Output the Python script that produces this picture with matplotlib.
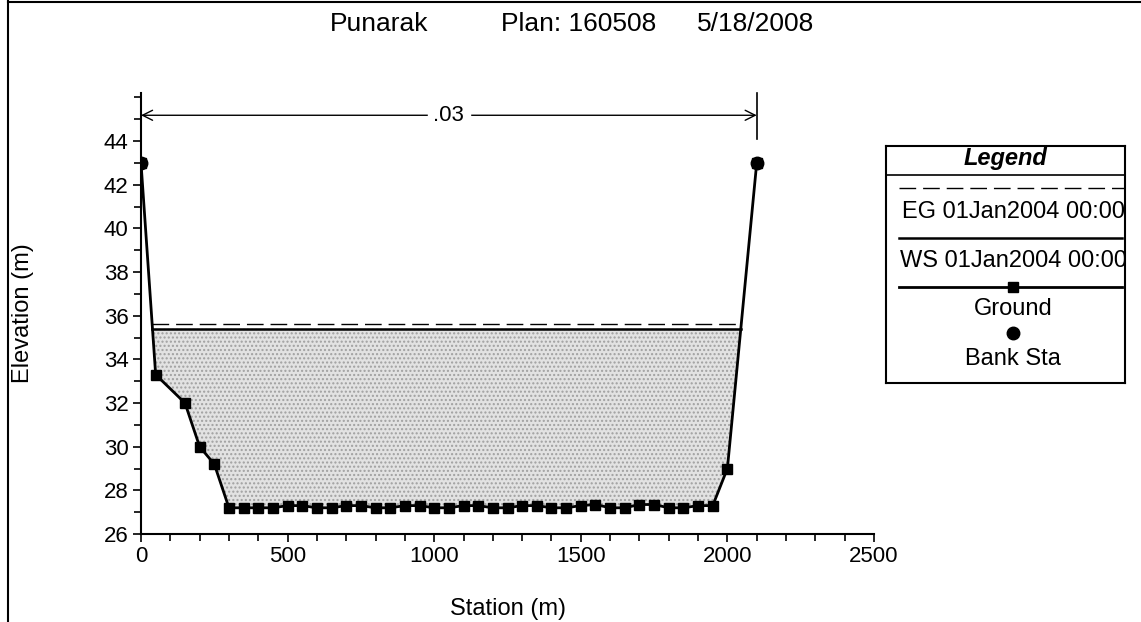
import numpy as np
import matplotlib
matplotlib.use("Agg")
import matplotlib.pyplot as plt
from matplotlib.lines import Line2D
from matplotlib.ticker import MultipleLocator

plt.rcParams['font.family'] = ['Liberation Sans', 'DejaVu Sans']

# cross-section data
station = [0, 50, 150, 200, 250,
           300, 350, 400, 450, 500, 550, 600, 650, 700, 750,
           800, 850, 900, 950, 1000, 1050, 1100, 1150, 1200, 1250,
           1300, 1350, 1400, 1450, 1500, 1550, 1600, 1650, 1700, 1750,
           1800, 1850, 1900, 1950,
           2000, 2100]
elev = [43.0, 33.3, 32.0, 30.0, 29.2,
        27.2, 27.2, 27.2, 27.2, 27.3, 27.3, 27.2, 27.2, 27.3, 27.3,
        27.2, 27.2, 27.3, 27.3, 27.2, 27.2, 27.3, 27.3, 27.2, 27.2,
        27.3, 27.3, 27.2, 27.2, 27.3, 27.35, 27.2, 27.2, 27.35, 27.35,
        27.2, 27.2, 27.3, 27.3,
        29.0, 43.0]
bank_sta = [0, 2100]
bank_elev = [43.0, 43.0]
ws = 35.4
eg = 35.63
n_value = '.03'
title_parts = ['Punarak', 'Plan: 160508', '5/18/2008']
legend_labels = ['EG 01Jan2004 00:00', 'WS 01Jan2004 00:00', 'Ground', 'Bank Sta']

st = np.array(station, dtype=float)
el = np.array(elev, dtype=float)

W, H = 1141, 622
fig = plt.figure(figsize=(W / 100, H / 100), dpi=100)
ax = fig.add_axes([141 / W, 1 - 534 / H, (874 - 141) / W, (534 - 93) / H])


def crossing(level):
    xl = np.interp(level, [el[1], el[0]], [st[1], st[0]])
    xr = np.interp(level, [el[-2], el[-1]], [st[-2], st[-1]])
    return xl, xr


# water fill
ax.fill_between(st, el, ws, where=el <= ws, interpolate=True,
                facecolor='#e2e2e2', hatch='....', edgecolor='#a0a0a0',
                linewidth=0, zorder=1)
xl, xr = crossing(eg)
ax.plot([xl, xr], [eg, eg], color='black', lw=1.0, ls=(0, (12, 5)), zorder=2)
xl, xr = crossing(ws)
ax.plot([xl, xr], [ws, ws], color='black', lw=1.8, zorder=2)

ax.plot(st, el, color='black', lw=2.0, marker='s', ms=7, zorder=3)
ax.plot(bank_sta, bank_elev, 'o', color='black', ms=9, zorder=4)

ax.set_xlim(0, 2500)
ax.set_ylim(26, 46.2)
ax.xaxis.set_major_locator(MultipleLocator(500))
ax.xaxis.set_minor_locator(MultipleLocator(100))
ax.yaxis.set_minor_locator(MultipleLocator(1))
ax.set_yticks(np.arange(26, 45, 2))
ax.spines['top'].set_visible(False)
ax.spines['right'].set_visible(False)
for s in ['left', 'bottom']:
    ax.spines[s].set_linewidth(1.5)
ax.tick_params(which='major', length=6, width=1.2, labelsize=16, pad=3)
ax.tick_params(which='minor', length=5, width=1.2)
ax.set_xlabel('Station (m)', fontsize=17, labelpad=22)
ax.set_ylabel('Elevation (m)', fontsize=17)
ax.yaxis.set_label_coords(-0.146, 0.5)

# Manning's n annotation
ay = 45.18
ax.annotate('', xy=(bank_sta[0], ay), xytext=(bank_sta[1], ay),
            arrowprops=dict(arrowstyle='<->', color='black', lw=1.0,
                            shrinkA=0, shrinkB=0, mutation_scale=18))
ax.text((bank_sta[0] + bank_sta[1]) / 2, ay, n_value, ha='center', va='center',
        fontsize=16, backgroundcolor='white', zorder=5)
ax.plot([bank_sta[1], bank_sta[1]], [44.1, 46.2], color='black', lw=1.2,
        clip_on=False)

# title
for xc, txt in zip([379, 579, 756], title_parts):
    fig.text(xc / W, 1 - 24 / H, txt, fontsize=19, ha='center', va='center')

# legend box
lx0, lx1, ly0, ly1 = 886, 1125, 146, 383
lg = fig.add_axes([lx0 / W, 1 - ly1 / H, (lx1 - lx0) / W, (ly1 - ly0) / H])
lg.set_xlim(lx0, lx1)
lg.set_ylim(ly1, ly0)
lg.set_xticks([])
lg.set_yticks([])
for s in lg.spines.values():
    s.set_linewidth(1.5)
cx = 1013
lg.text((lx0 + lx1) / 2, 159, 'Legend', ha='center', va='center', fontsize=17,
        fontweight='bold', fontstyle='italic')
lg.plot([lx0, lx1], [175, 175], color='black', lw=1.2)
lg.plot([899, lx1], [188, 188], color='black', lw=1.0, ls=(0, (12, 5)))
lg.text(cx, 212, legend_labels[0], ha='center', va='center', fontsize=17,
        clip_on=True)
lg.plot([899, lx1 - 3], [238, 238], color='black', lw=1.8)
lg.text(cx, 261, legend_labels[1], ha='center', va='center', fontsize=17,
        clip_on=True)
lg.plot([899, lx1 - 3], [287, 287], color='black', lw=2.0)
lg.plot([cx], [287], 's', color='black', ms=7)
lg.text(cx, 309, legend_labels[2], ha='center', va='center', fontsize=17)
lg.plot([cx], [333], 'o', color='black', ms=9)
lg.text(cx, 359, legend_labels[3], ha='center', va='center', fontsize=17)

# outer frame lines
fig.add_artist(Line2D([8 / W, 8 / W], [0, 1], color='black', lw=1.5))
fig.add_artist(Line2D([8 / W, 1], [1 - 2 / H, 1 - 2 / H], color='black', lw=1.5))

fig.savefig('out.png', dpi=100)
